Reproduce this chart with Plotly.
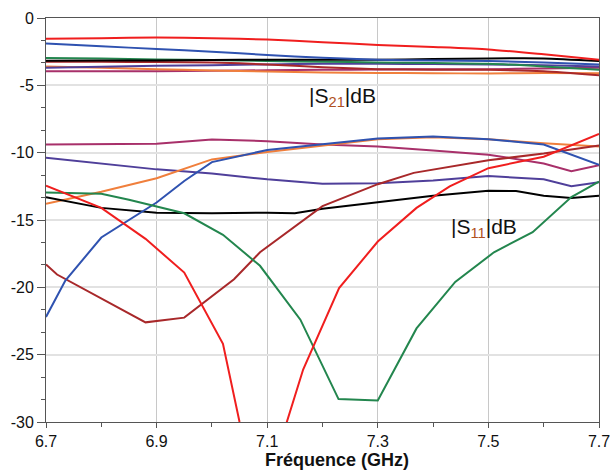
import plotly.graph_objects as go

# ---------------- data ----------------
f21 = [6.7, 6.8, 6.9, 7.0, 7.1, 7.2, 7.3, 7.4, 7.5, 7.6, 7.7]
s21_red = [-1.55, -1.5, -1.45, -1.5, -1.6, -1.8, -2.0, -2.15, -2.33, -2.7, -3.1]
s21_blue = [-1.9, -2.1, -2.3, -2.5, -2.75, -2.95, -3.1, -3.15, -3.2, -3.3, -3.45]
s21_green = [-2.97, -3.0, -3.08, -3.12, -3.2, -3.25, -3.3, -3.35, -3.4, -3.6, -3.85]
s21_black = [-3.17, -3.16, -3.15, -3.12, -3.1, -3.1, -3.1, -3.05, -3.0, -3.0, -3.2]
s21_darkred = [-3.25, -3.25, -3.27, -3.3, -3.45, -3.65, -3.8, -3.85, -3.85, -3.95, -4.25]
s21_slate = [-3.7, -3.62, -3.55, -3.5, -3.45, -3.4, -3.4, -3.42, -3.45, -3.5, -3.6]
s21_orange = [-3.6, -3.7, -3.8, -3.9, -3.97, -4.05, -4.08, -4.1, -4.12, -4.08, -4.1]
s21_magenta = [-3.96, -3.96, -3.95, -3.92, -3.88, -3.85, -3.82, -3.8, -3.8, -3.75, -3.7]

f11_red = [6.7, 6.8, 6.88, 6.95, 7.02, 7.05, 7.09, 7.135, 7.165, 7.23, 7.3, 7.37, 7.43, 7.5, 7.6, 7.7]
s11_red = [-12.45, -14.1, -16.4, -18.9, -24.2, -30.0, -36.0, -30.0, -26.1, -20.05, -16.6, -14.1, -12.5, -11.15, -10.3, -8.6]

f11_green = [6.7, 6.8, 6.85, 6.95, 7.02, 7.087, 7.16, 7.229, 7.3, 7.37, 7.44, 7.51, 7.58, 7.65, 7.7]
s11_green = [-12.95, -13.05, -13.5, -14.5, -16.1, -18.4, -22.4, -28.3, -28.4, -23.05, -19.6, -17.4, -15.9, -13.3, -12.15]

f11_blue = [6.7, 6.735, 6.8, 6.9, 6.95, 7.0, 7.1, 7.2, 7.3, 7.4, 7.5, 7.6, 7.7]
s11_blue = [-22.2, -19.5, -16.3, -13.7, -12.1, -10.7, -9.8, -9.35, -8.95, -8.8, -9.0, -9.4, -10.9]

f11_orange = [6.7, 6.8, 6.9, 7.0, 7.1, 7.2, 7.3, 7.4, 7.5, 7.6, 7.7]
s11_orange = [-13.8, -12.9, -11.9, -10.5, -9.95, -9.45, -9.0, -8.85, -9.0, -9.3, -9.55]

f11_magenta = [6.7, 6.8, 6.9, 7.0, 7.1, 7.2, 7.3, 7.4, 7.5, 7.6, 7.65, 7.7]
s11_magenta = [-9.4, -9.38, -9.34, -9.02, -9.15, -9.4, -9.55, -9.83, -10.15, -10.8, -11.37, -10.93]

f11_slate = [6.7, 6.8, 6.9, 7.0, 7.1, 7.2, 7.3, 7.4, 7.5, 7.6, 7.65, 7.7]
s11_slate = [-10.37, -10.8, -11.24, -11.54, -11.98, -12.3, -12.27, -12.07, -11.73, -11.98, -12.5, -12.2]

f11_black = [6.7, 6.8, 6.9, 7.0, 7.1, 7.15, 7.2, 7.3, 7.4, 7.5, 7.55, 7.6, 7.65, 7.7]
s11_black = [-13.3, -14.1, -14.46, -14.5, -14.46, -14.5, -14.17, -13.68, -13.2, -12.83, -12.85, -13.2, -13.37, -13.2]

f11_darkred = [6.7, 6.72, 6.88, 6.95, 7.04, 7.087, 7.2, 7.3, 7.365, 7.5, 7.6, 7.7]
s11_darkred = [-18.3, -19.05, -22.6, -22.25, -19.4, -17.4, -13.97, -12.34, -11.5, -10.56, -10.07, -9.46]

x_ticks = [6.7, 6.9, 7.1, 7.3, 7.5, 7.7]
x_tick_labels = ["6.7", "6.9", "7.1", "7.3", "7.5", "7.7"]
y_ticks = [0, -5, -10, -15, -20, -25, -30]
y_tick_labels = ["0", "-5", "-10", "-15", "-20", "-25", "-30"]

# ---------------- colours ----------------
RED = "#f01e1e"
BLUE = "#2f52b0"
GREEN = "#23864e"
BLACK = "#000000"
DARKRED = "#a8282a"
ORANGE = "#f07f3c"
MAGENTA = "#a8306a"
SLATE = "#4f3f9a"

fig = go.Figure()

s21_sets = [
    (s21_magenta, MAGENTA), (s21_orange, ORANGE), (s21_slate, SLATE),
    (s21_darkred, DARKRED), (s21_green, GREEN), (s21_black, BLACK),
    (s21_blue, BLUE), (s21_red, RED),
]
for ys, c in s21_sets:
    fig.add_trace(go.Scatter(x=f21, y=ys, mode="lines",
                             line=dict(color=c, width=2, shape="spline", smoothing=0.6),
                             showlegend=False, hoverinfo="skip"))

s11_sets = [
    (f11_magenta, s11_magenta, MAGENTA), (f11_slate, s11_slate, SLATE),
    (f11_orange, s11_orange, ORANGE), (f11_black, s11_black, BLACK),
    (f11_darkred, s11_darkred, DARKRED), (f11_blue, s11_blue, BLUE),
    (f11_green, s11_green, GREEN), (f11_red, s11_red, RED),
]
for xs, ys, c in s11_sets:
    fig.add_trace(go.Scatter(x=xs, y=ys, mode="lines",
                             line=dict(color=c, width=2),
                             showlegend=False, hoverinfo="skip"))

FONT = "Liberation Sans, Arial, sans-serif"

fig.update_layout(
    width=611, height=470,
    margin=dict(l=46, r=12, t=18, b=48, autoexpand=False),
    paper_bgcolor="white", plot_bgcolor="white",
    font=dict(family=FONT, size=16, color="#111"),
    xaxis=dict(range=[6.7, 7.7], tickvals=x_ticks, ticktext=x_tick_labels,
               showgrid=True, gridcolor="#c8c8c8", gridwidth=1,
               showline=True, linecolor="#555", linewidth=1, mirror=True,
               ticks="outside", ticklen=5, tickcolor="#555", zeroline=False,
               minor=dict(dtick=0.1, tick0=6.7, ticks="outside", ticklen=4,
                          tickcolor="#555", showgrid=False),
               tickfont=dict(size=16), automargin=False),
    yaxis=dict(range=[-30, 0], tickvals=y_ticks, ticktext=y_tick_labels,
               showgrid=True, gridcolor="#e2e2e2", gridwidth=2,
               showline=True, linecolor="#555", linewidth=1, mirror=True,
               ticks="outside", ticklen=8, tickcolor="#555", zeroline=False,
               minor=dict(dtick=5/3, tick0=0, ticks="outside", ticklen=4,
                          tickcolor="#555", showgrid=False),
               tickfont=dict(size=16), automargin=False),
)

fig.add_annotation(xref="paper", yref="paper", x=(337 - 46) / 553, y=0,
                   yshift=-38, yanchor="middle", xanchor="center", showarrow=False,
                   text="<b>Fréquence (GHz)</b>", font=dict(size=18, family=FONT, color="#111"))

fig.add_annotation(x=7.237, y=-5.9, xref="x", yref="y", showarrow=False,
                   text="|S<sub><span style='color:#b0501e'>21</span></sub>|dB",
                   font=dict(size=21, family=FONT, color="#111"))
fig.add_annotation(x=7.492, y=-15.6, xref="x", yref="y", showarrow=False,
                   text="|S<sub><span style='color:#b0501e'>11</span></sub>|dB",
                   font=dict(size=21, family=FONT, color="#111"))

fig.write_html("out.html", config={"displayModeBar": False},
               post_script="document.body.style.margin='0';document.body.style.overflow='hidden';")
